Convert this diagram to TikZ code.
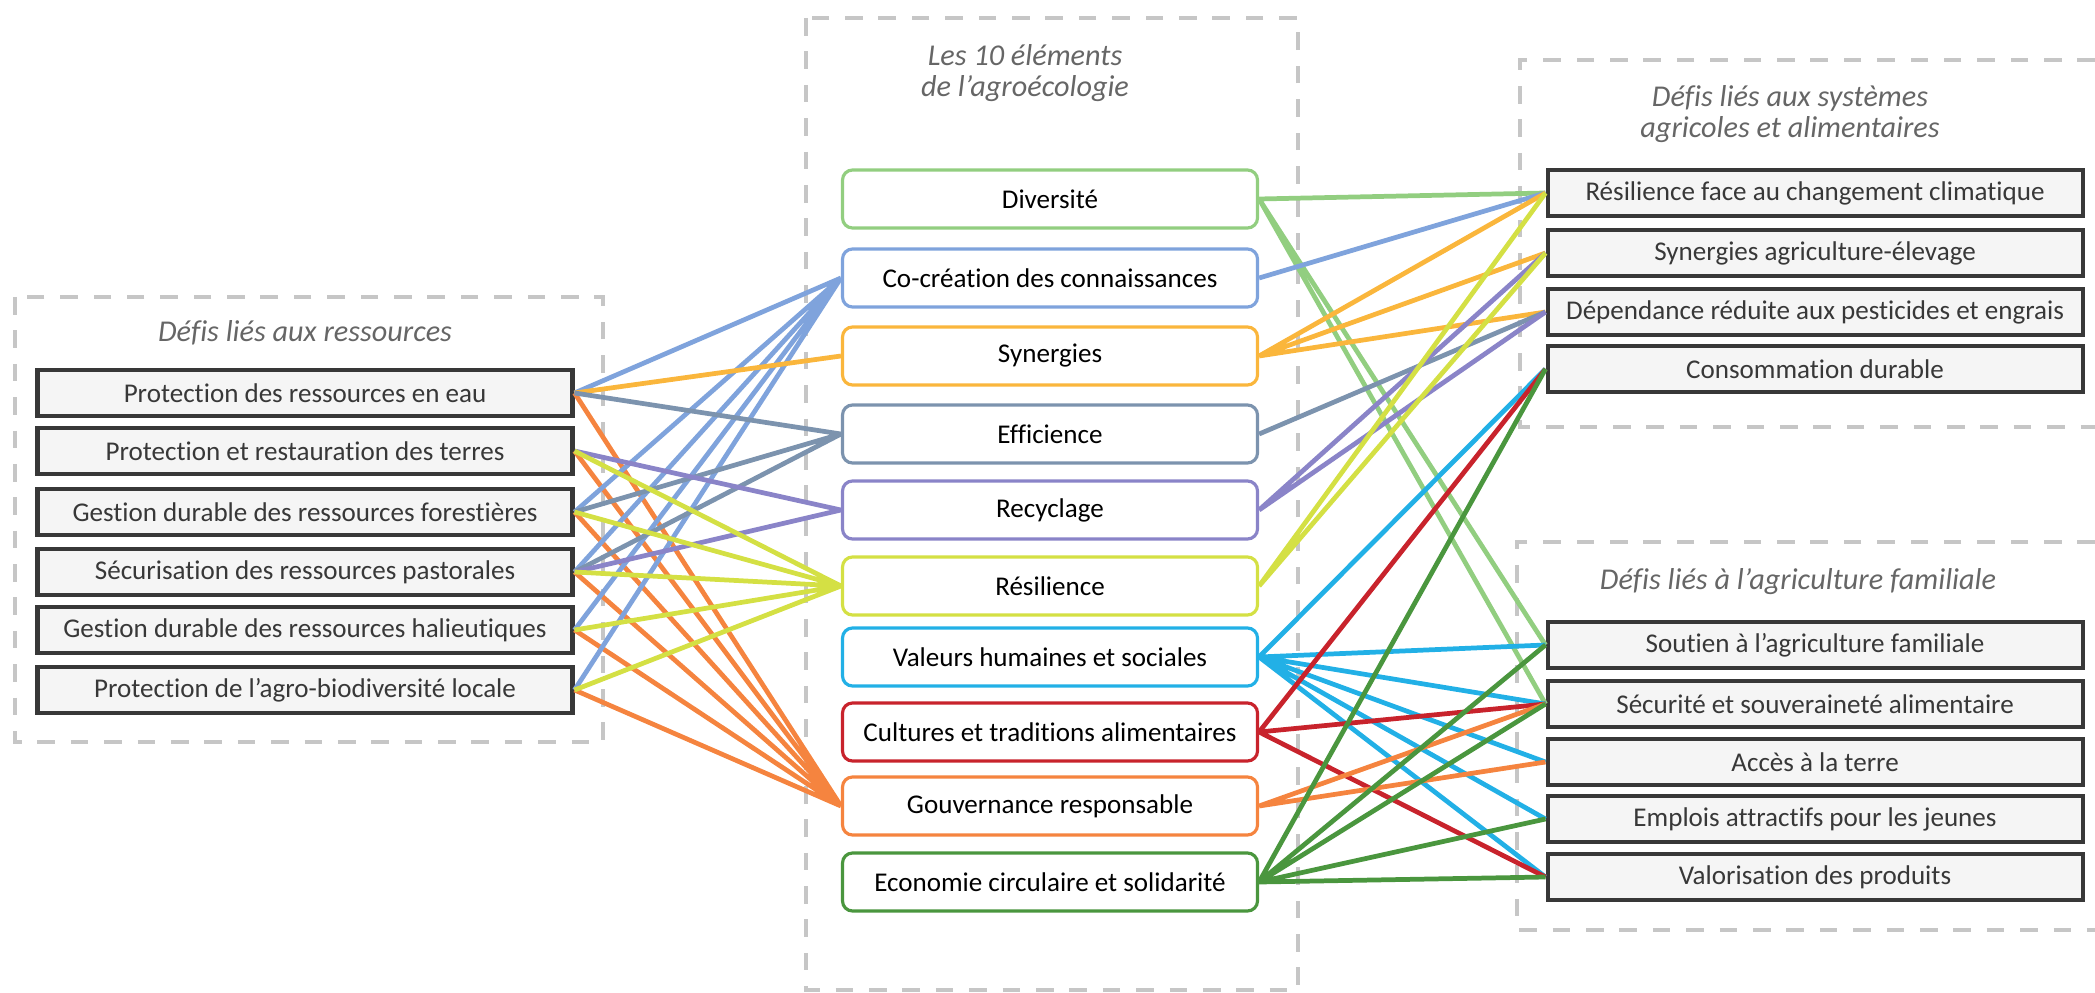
\documentclass[tikz,border=0pt]{standalone}
\usepackage{fontspec}
\setmainfont{Carlito}[Ligatures=NoCommon]
\usepackage{tikz}

\definecolor{cDiv}{RGB}{146,206,128}
\definecolor{cCoc}{RGB}{127,163,220}
\definecolor{cSyn}{RGB}{250,182,60}
\definecolor{cEff}{RGB}{124,147,174}
\definecolor{cRec}{RGB}{138,132,200}
\definecolor{cRes}{RGB}{212,224,68}
\definecolor{cVal}{RGB}{34,176,230}
\definecolor{cCul}{RGB}{200,35,44}
\definecolor{cGou}{RGB}{245,132,63}
\definecolor{cEco}{RGB}{74,150,62}

\begin{document}
\begin{tikzpicture}[x=0.1mm, y=-0.1mm]
    % Styles
    \tikzstyle{defi} = [rectangle, draw=black!78, line width=1.15pt, fill=gray!8, minimum width=5.35cm, minimum height=0.46cm, inner sep=0pt, text=black!78, font=\fontsize{7.7}{9}\selectfont]
    \tikzstyle{elem} = [rectangle, rounded corners=0.1cm, line width=0.9pt, fill=white, minimum width=4.15cm, minimum height=0.58cm, inner sep=0pt, font=\fontsize{7.7}{9}\selectfont]
    \tikzstyle{groupe} = [draw=gray!45, line width=1.4pt, dash pattern=on 5pt off 4.5pt]
    \tikzstyle{titre} = [align=center, text=black!60, font=\fontsize{8.6}{9}\selectfont\itshape]
    \tikzstyle{lien} = [line width=1.35pt]

    \useasboundingbox (0,0) rectangle (2095,993);

    % Frames
    \draw[groupe] (15,297) rectangle (603,742);
    \draw[groupe] (806,18) rectangle (1298,990);
    \draw[groupe] (2095,60) -- (1520,60) -- (1520,427) -- (2095,427);
    \draw[groupe] (2095,542) -- (1517,542) -- (1517,930) -- (2095,930);

    \node[titre] (T1) at (305,333) {Défis liés aux ressources};
    \node[titre] (T2) at (1025,73) {Les 10 éléments\\de l’agroécologie};
    \node[titre] (T3) at (1790,114) {Défis liés aux systèmes\\agricoles et alimentaires};
    \node[titre] (T4) at (1798,582) {Défis liés à l’agriculture familiale};

    % Nodes - resources
    \node[defi] (R1) at (305,393) {Protection des ressources en eau};
    \node[defi] (R2) at (305,451) {Protection et restauration des terres};
    \node[defi] (R3) at (305,512) {Gestion durable des ressources forestières};
    \node[defi] (R4) at (305,572) {Sécurisation des ressources pastorales};
    \node[defi] (R5) at (305,630) {Gestion durable des ressources halieutiques};
    \node[defi] (R6) at (305,690) {Protection de l’agro-biodiversité locale};

    % Nodes - the 10 elements
    \node[elem, draw=cDiv] (E1) at (1050,199) {Diversité};
    \node[elem, draw=cCoc] (E2) at (1050,278) {Co-création des connaissances};
    \node[elem, draw=cSyn] (E3) at (1050,356) {Synergies};
    \node[elem, draw=cEff] (E4) at (1050,434) {Efficience};
    \node[elem, draw=cRec] (E5) at (1050,510) {Recyclage};
    \node[elem, draw=cRes] (E6) at (1050,586) {Résilience};
    \node[elem, draw=cVal] (E7) at (1050,657) {Valeurs humaines et sociales};
    \node[elem, draw=cCul] (E8) at (1050,732) {Cultures et traditions alimentaires};
    \node[elem, draw=cGou] (E9) at (1050,806) {Gouvernance responsable};
    \node[elem, draw=cEco] (E10) at (1050,882) {Economie circulaire et solidarité};

    % Nodes - systems
    \node[defi] (S1) at (1815,193) {Résilience face au changement climatique};
    \node[defi] (S2) at (1815,253) {Synergies agriculture-élevage};
    \node[defi] (S3) at (1815,312) {Dépendance réduite aux pesticides et engrais};
    \node[defi] (S4) at (1815,369) {Consommation durable};

    % Nodes - family farming
    \node[defi] (F1) at (1815,645) {Soutien à l’agriculture familiale};
    \node[defi] (F2) at (1815,704) {Sécurité et souveraineté alimentaire};
    \node[defi] (F3) at (1815,762) {Accès à la terre};
    \node[defi] (F4) at (1815,819) {Emplois attractifs pour les jeunes};
    \node[defi] (F5) at (1815,877) {Valorisation des produits};

    % Links - left
    \draw[lien, cGou] (R1.east) -- (E9.west) (R2.east) -- (E9.west) (R3.east) -- (E9.west)
                      (R4.east) -- (E9.west) (R5.east) -- (E9.west) (R6.east) -- (E9.west);
    \draw[lien, cCoc] (R1.east) -- (E2.west) (R3.east) -- (E2.west) (R4.east) -- (E2.west)
                      (R5.east) -- (E2.west) (R6.east) -- (E2.west);
    \draw[lien, cSyn] (R1.east) -- (E3.west);
    \draw[lien, cEff] (R1.east) -- (E4.west) (R3.east) -- (E4.west) (R4.east) -- (E4.west);
    \draw[lien, cRec] (R2.east) -- (E5.west) (R4.east) -- (E5.west);
    \draw[lien, cRes] (R2.east) -- (E6.west) (R3.east) -- (E6.west) (R4.east) -- (E6.west)
                      (R5.east) -- (E6.west) (R6.east) -- (E6.west);

    % Links - right
    \draw[lien, cDiv] (E1.east) -- (S1.west) (E1.east) -- (F1.west) (E1.east) -- (F2.west);
    \draw[lien, cCoc] (E2.east) -- (S1.west);
    \draw[lien, cSyn] (E3.east) -- (S1.west) (E3.east) -- (S2.west) (E3.east) -- (S3.west);
    \draw[lien, cEff] (E4.east) -- (S3.west);
    \draw[lien, cRec] (E5.east) -- (S2.west) (E5.east) -- (S3.west);
    \draw[lien, cRes] (E6.east) -- (S1.west) (E6.east) -- (S2.west);
    \draw[lien, cVal] (E7.east) -- (S4.west) (E7.east) -- (F1.west) (E7.east) -- (F2.west)
                      (E7.east) -- (F3.west) (E7.east) -- (F4.west) (E7.east) -- (F5.west);
    \draw[lien, cCul] (E8.east) -- (S4.west) (E8.east) -- (F2.west) (E8.east) -- (F5.west);
    \draw[lien, cGou] (E9.east) -- (F2.west) (E9.east) -- (F3.west);
    \draw[lien, cEco] (E10.east) -- (S4.west) (E10.east) -- (F1.west) (E10.east) -- (F2.west)
                      (E10.east) -- (F4.west) (E10.east) -- (F5.west);
\end{tikzpicture}
\end{document}
